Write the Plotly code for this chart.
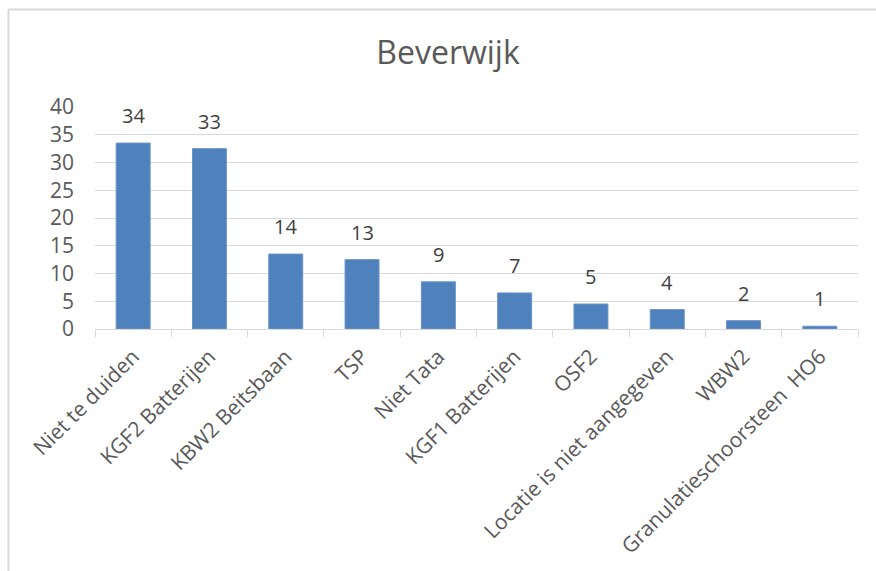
import plotly.graph_objects as go

categories = ["Niet te duiden", "KGF2 Batterijen", "KBW2 Beitsbaan", "TSP", "Niet Tata",
              "KGF1 Batterijen", "OSF2", "Locatie is niet aangegeven", "WBW2",
              "Granulatieschoorsteen  HO6"]
values = [33.5, 32.5, 13.5, 12.5, 8.5, 6.5, 4.5, 3.5, 1.5, 0.5]
labels = [34, 33, 14, 13, 9, 7, 5, 4, 2, 1]
y_ticks = [0, 5, 10, 15, 20, 25, 30, 35, 40]

FONT = "Open Sans"
GREY = "#595959"
GRID = "#d9d9d9"

fig = go.Figure()
fig.add_trace(go.Bar(
    x=categories, y=values,
    marker=dict(color="#4f81bd", line=dict(color="#6a93c8", width=1)),
    hoverinfo="skip",
))

for c, v, t in zip(categories, values, labels):
    fig.add_annotation(x=c, y=v, text=str(t), showarrow=False,
                       yanchor="bottom", yshift=12,
                       font=dict(family=FONT, size=20, color="#404040"))

L, R, T, B = 95, 18, 107, 242
W, H = 876, 571
ph = H - T - B
pw = W - L - R
# outer frame (left and top edges)
fig.add_shape(type="line", xref="paper", yref="paper",
              x0=(8.5 - L) / pw, x1=(8.5 - L) / pw,
              y0=(H - B - 9.5) / ph, y1=(H - B - 575) / ph,
              line=dict(color="#d9d9d9", width=2))
fig.add_shape(type="line", xref="paper", yref="paper",
              x0=(8.5 - L) / pw, x1=(880 - L) / pw,
              y0=(H - B - 9.5) / ph, y1=(H - B - 9.5) / ph,
              line=dict(color="#d9d9d9", width=2))

fig.update_layout(
    width=W, height=H,
    margin=dict(l=L, r=R, t=T, b=B),
    paper_bgcolor="white", plot_bgcolor="white",
    bargap=0.555,
    showlegend=False,
    title=dict(text="Beverwijk", x=(448 - L) / pw, xref="paper", xanchor="center",
               y=1 - 53 / H, yanchor="middle", yref="container",
               font=dict(family=FONT, size=32, color=GREY)),
    font=dict(family=FONT, color=GREY),
)
fig.update_yaxes(range=[0, 40], tickvals=y_ticks, showgrid=True, gridcolor=GRID,
                 gridwidth=1, zeroline=False, showline=False, ticks="",
                 ticklabelstandoff=20,
                 tickfont=dict(family=FONT, size=21, color=GREY))
fig.update_xaxes(showline=True, linecolor=GRID, linewidth=1, ticks="outside",
                 tickson="boundaries", ticklen=7, tickcolor=GRID, tickwidth=1,
                 tickangle=-45, ticklabelstandoff=6,
                 tickfont=dict(family=FONT, size=21, color=GREY))

fig.write_html("out.html", config={"displayModeBar": False},
               post_script="document.body.style.margin='0';document.body.style.padding='0';")
